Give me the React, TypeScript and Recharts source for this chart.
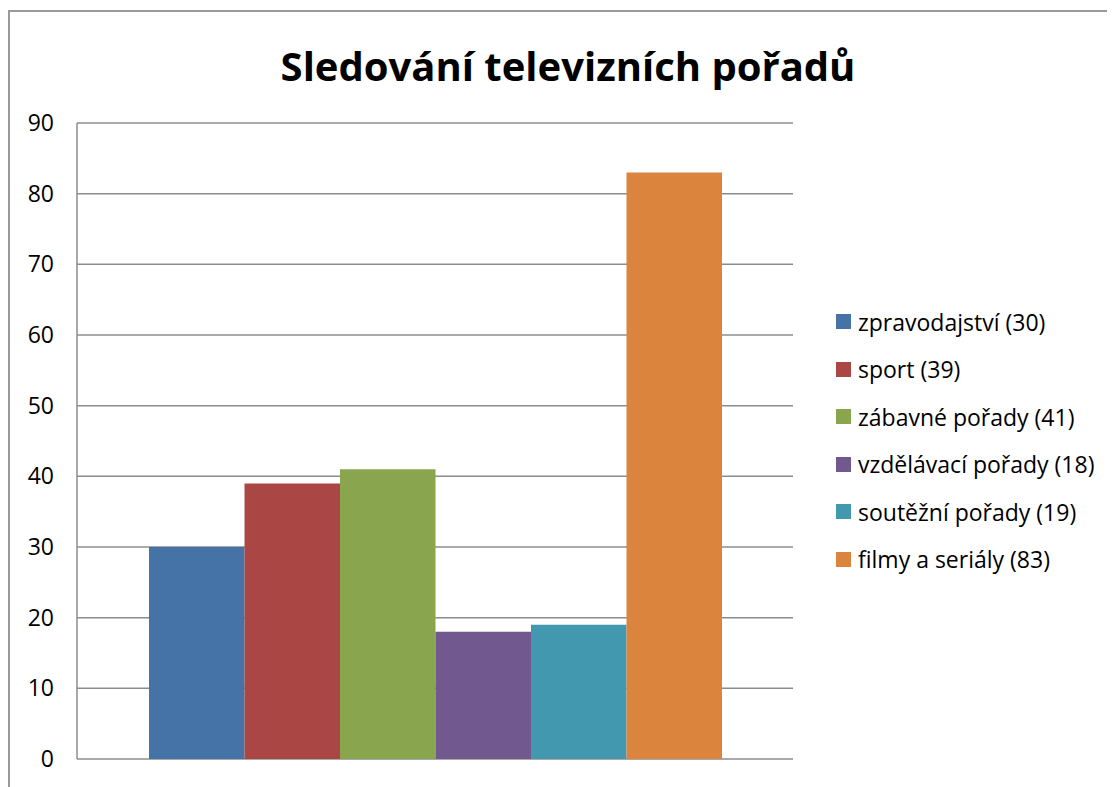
import React from 'react';
import { BarChart, Bar, XAxis, YAxis, CartesianGrid } from 'recharts';

const seriesNames = [
  'zpravodajství (30)',
  'sport (39)',
  'zábavné pořady (41)',
  'vzdělávací pořady (18)',
  'soutěžní pořady (19)',
  'filmy a seriály (83)',
];
const seriesValues = [30, 39, 41, 18, 19, 83];
const seriesColors = ['#4572a7', '#aa4643', '#89a54e', '#71588f', '#4198af', '#db843d'];
const yTicks = [0, 10, 20, 30, 40, 50, 60, 70, 80, 90];

const chartData = [
  seriesValues.reduce<Record<string, number | string>>(
    (row, v, i) => {
      row[`s${i}`] = v;
      return row;
    },
    { name: '' }
  ),
];

const FONT = '"Open Sans", "Noto Sans", sans-serif';

// legend drawn next to the chart, outside the svg so it doesn't squeeze the plot
const LegendList = () => (
  <div style={{ fontFamily: FONT, fontSize: 23, color: '#000' }}>
    {seriesNames.map((n, i) => (
      <div key={n} style={{ display: 'flex', alignItems: 'center', height: 47.5 }}>
        <span
          style={{
            display: 'inline-block',
            width: 15,
            height: 15,
            background: seriesColors[i],
            marginRight: 7,
          }}
        />
        <span>{n}</span>
      </div>
    ))}
  </div>
);

export default function App() {
  return (
    <div
      style={{
        position: 'relative',
        width: 1107,
        height: 779,
        boxSizing: 'border-box',
        borderTop: '2px solid #9a9a9a',
        borderLeft: '2px solid #9a9a9a',
        marginTop: 2,
        background: '#fff',
        overflow: 'hidden',
      }}
    >
      <div
        style={{
          position: 'absolute',
          top: 26,
          left: 0,
          width: 1116,
          textAlign: 'center',
          fontFamily: FONT,
          fontWeight: 700,
          fontSize: 40,
          color: '#000',
        }}
      >
        Sledování televizních pořadů
      </div>
      <div style={{ position: 'absolute', left: -2, top: -4 }}>
        <BarChart
          width={1107}
          height={779}
          data={chartData}
          margin={{ top: 115, right: 322, bottom: 28, left: 0 }}
          barCategoryGap="10%"
          barGap={0}
          barSize={95.5}
        >
          <CartesianGrid vertical={false} stroke="#8c8c8c" strokeWidth={1.5} />
          <XAxis dataKey="name" hide />
          <YAxis
            domain={[0, 90]}
            ticks={yTicks}
            width={69}
            interval={0}
            axisLine={{ stroke: '#8c8c8c', strokeWidth: 1.5 }}
            tickLine={false}
            tick={{ fill: '#000', fontSize: 23, fontFamily: FONT }}
            tickMargin={17}
          />
          {seriesNames.map((n, i) => (
            <Bar
              key={n}
              dataKey={`s${i}`}
              name={n}
              fill={seriesColors[i]}
              isAnimationActive={false}
            />
          ))}
        </BarChart>
      </div>
      <div style={{ position: 'absolute', left: 826, top: 286 }}>
        <LegendList />
      </div>
    </div>
  );
}
